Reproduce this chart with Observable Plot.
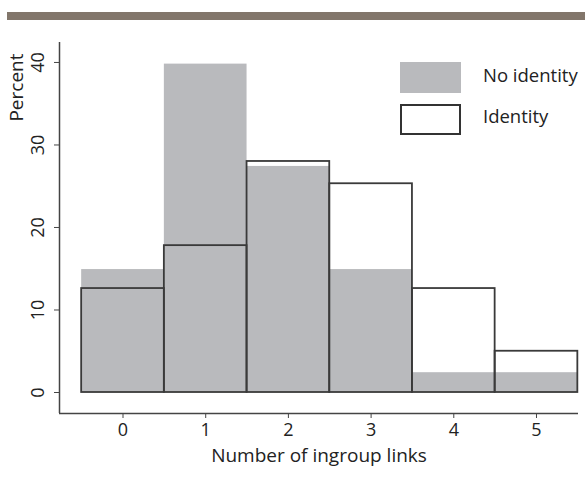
<!DOCTYPE html>
<html>
<head>
<meta charset="utf-8">
<script src="https://cdn.jsdelivr.net/npm/d3@7"></script>
<script src="https://cdn.jsdelivr.net/npm/@observablehq/plot@0.6"></script>
<style>
  html, body { margin: 0; padding: 0; background: #fff; }
  #wrap { position: relative; width: 585px; height: 479px; overflow: hidden; font-family: "Open Sans", sans-serif; }
  #topbar { position: absolute; left: 7px; top: 12px; width: 578px; height: 8px; background: #82766b; }
  .lg { position: absolute; font-size: 18.5px; color: #222; line-height: 1; }
  .sw { position: absolute; width: 61px; height: 31px; box-sizing: border-box; }
</style>
</head>
<body>
<div id="wrap">
  <div id="topbar"></div>
  <div id="chart"></div>
  <div class="sw" style="left:400px;top:62px;background:#b9babd;"></div>
  <div class="lg" style="left:483px;top:66px;">No identity</div>
  <div class="sw" style="left:400px;top:104px;border:2px solid #333;background:#fff;"></div>
  <div class="lg" style="left:483px;top:107px;">Identity</div>
</div>
<script>
const links = [0, 1, 2, 3, 4, 5];
const noIdentity = [14.9, 39.8, 27.4, 14.9, 2.4, 2.4];
const identity = [12.6, 17.8, 28.0, 25.3, 12.6, 5.0];
const yTicks = [0, 10, 20, 30, 40];
const xLabel = "Number of ingroup links";
const yLabel = "Percent";

const gray = links.map((k, i) => ({k, v: noIdentity[i]}));
const ident = links.map((k, i) => ({k, v: identity[i]}));

const xDom = [-0.768, 5.508];
const yDom = [-2.545, 42.42];

const chart = Plot.plot({
  width: 585,
  height: 479,
  marginLeft: 59,
  marginRight: 7,
  marginTop: 42,
  marginBottom: 66,
  style: {fontFamily: "'Open Sans', sans-serif", fontSize: "18px", color: "#222", background: "transparent"},
  x: {domain: xDom},
  y: {domain: yDom},
  marks: [
    Plot.rect(gray, {x1: d => d.k - 0.5, x2: d => d.k + 0.5, y1: 0, y2: "v", fill: "#b9babd"}),
    Plot.rect(ident, {x1: d => d.k - 0.5, x2: d => d.k + 0.5, y1: 0, y2: "v", fill: "none", stroke: "#3a3a3a", strokeWidth: 1.8}),
    Plot.ruleX([xDom[0]], {stroke: "#444", strokeWidth: 1.5}),
    Plot.ruleY([yDom[0]], {stroke: "#444", strokeWidth: 1.5}),
    Plot.axisY({ticks: yTicks, tickFormat: "d", tickSize: 5, tickPadding: 11, tickRotate: -90, label: null, stroke: "#444", fontSize: 18}),
    Plot.axisX({ticks: links, tickFormat: "d", tickSize: 5, tickPadding: 5, label: null, stroke: "#444", fontSize: 18}),
    Plot.text([yLabel], {frameAnchor: "top-left", rotate: -90, textAnchor: "end", dx: -50, dy: 11, fontSize: 19, fill: "#222"}),
    Plot.text([xLabel], {frameAnchor: "bottom", dy: 48, fontSize: 19, fill: "#222"})
  ]
});
document.getElementById("chart").appendChild(chart);
</script>
</body>
</html>
